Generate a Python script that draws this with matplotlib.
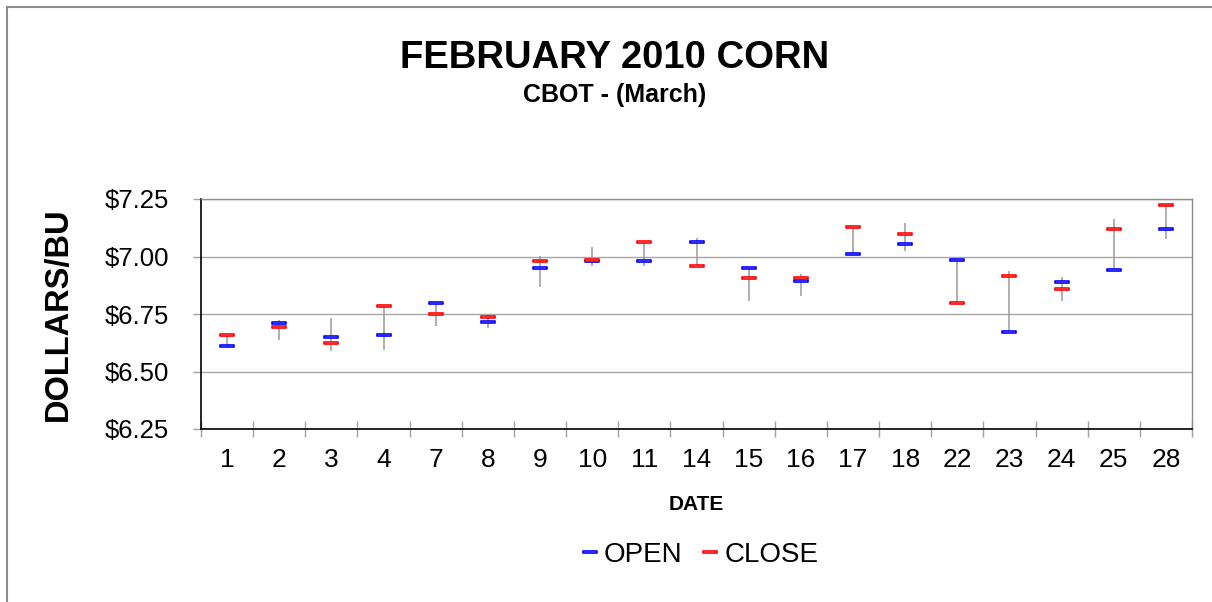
import numpy as np
import matplotlib
matplotlib.use("Agg")
import matplotlib.pyplot as plt
from matplotlib.path import Path
from matplotlib.patches import Rectangle

plt.rcParams['font.family'] = ['Liberation Sans', 'DejaVu Sans']

# data
dates = ['1', '2', '3', '4', '7', '8', '9', '10', '11', '14', '15', '16',
         '17', '18', '22', '23', '24', '25', '28']
open_px = [6.61, 6.71, 6.65, 6.66, 6.80, 6.715, 6.95, 6.98, 6.98, 7.065, 6.95, 6.895,
           7.01, 7.055, 6.985, 6.67, 6.89, 6.94, 7.12]
close_px = [6.66, 6.695, 6.625, 6.785, 6.75, 6.737, 6.98, 6.985, 7.065, 6.957, 6.905, 6.905,
            7.128, 7.098, 6.797, 6.915, 6.857, 7.12, 7.225]
high_px = [6.66, 6.725, 6.733, 6.785, 6.80, 6.75, 7.002, 7.043, 7.065, 7.08, 6.95, 6.925,
           7.128, 7.145, 6.985, 6.935, 6.91, 7.163, 7.23]
low_px = [6.61, 6.638, 6.59, 6.593, 6.696, 6.688, 6.869, 6.96, 6.96, 6.957, 6.808, 6.828,
          7.01, 7.025, 6.797, 6.67, 6.808, 6.94, 7.075]

x = np.arange(len(dates))

# flat hollow rectangle marker like the Excel dash
bar_marker = Path([(-1, -0.17), (1, -0.17), (1, 0.17), (-1, 0.17), (-1, -0.17)],
                  [Path.MOVETO, Path.LINETO, Path.LINETO, Path.LINETO, Path.CLOSEPOLY])

fig = plt.figure(figsize=(12.12, 6.02), dpi=100)
ax = fig.add_axes([201/1212, 1-429/602, (1192-201)/1212, (429-199)/602])

# outer border (top and left only visible)
fig.patches.append(Rectangle((7/1212, -0.1), 1.2, 1-7/602+0.1, transform=fig.transFigure,
                             fill=False, edgecolor='#8c8c8c', lw=1.5))

ax.vlines(x, low_px, high_px, color='#9a9a9a', lw=1.1, zorder=2)
ax.plot(x, open_px, ls='none', marker=bar_marker, ms=10, mfc='white', mec='#0000ff',
        mew=1.2, label='OPEN', zorder=3)
ax.plot(x, close_px, ls='none', marker=bar_marker, ms=10, mfc='white', mec='#ff0000',
        mew=1.2, label='CLOSE', zorder=3)

ax.set_xlim(-0.5, len(dates) - 0.5)
ax.set_ylim(6.25, 7.25)
ax.set_yticks([6.25, 6.50, 6.75, 7.00, 7.25])
ax.set_yticklabels(['$%.2f' % v for v in [6.25, 6.50, 6.75, 7.00, 7.25]], fontsize=18.5)
ax.set_xticks(x)
ax.set_xticklabels(dates, fontsize=19)
ax.set_xticks(np.arange(-0.5, len(dates), 1), minor=True)
ax.tick_params(axis='x', which='major', length=0, pad=14)
ax.tick_params(axis='x', which='minor', direction='inout', length=12, color='#a0a0a0', width=1)
ax.tick_params(axis='y', which='major', direction='out', length=6, color='#a0a0a0', width=1, pad=17)
ax.yaxis.grid(True, color='#a6a6a6', lw=1)
ax.set_axisbelow(True)

for s in ['top', 'right']:
    ax.spines[s].set_color('#8c8c8c')
    ax.spines[s].set_linewidth(1)
for s in ['left', 'bottom']:
    ax.spines[s].set_color('black')
    ax.spines[s].set_linewidth(1.2)

ax.set_xlabel('DATE', fontsize=15, fontweight='bold', labelpad=16)
ax.set_ylabel('DOLLARS/BU', fontsize=23.5, fontweight='bold', labelpad=22)

fig.text(615/1212, 1-58/602, 'FEBRUARY 2010 CORN', ha='center', va='center',
         fontsize=27.5, fontweight='bold')
fig.text(615/1212, 1-95/602, 'CBOT - (March)', ha='center', va='center',
         fontsize=18, fontweight='bold')

fig.legend(loc='center', bbox_to_anchor=(700/1212, 1-555/602), ncol=2, frameon=False,
           fontsize=20, handlelength=0.6, handletextpad=0.2, columnspacing=0.7)

fig.savefig('out.png', dpi=100, facecolor='white')
